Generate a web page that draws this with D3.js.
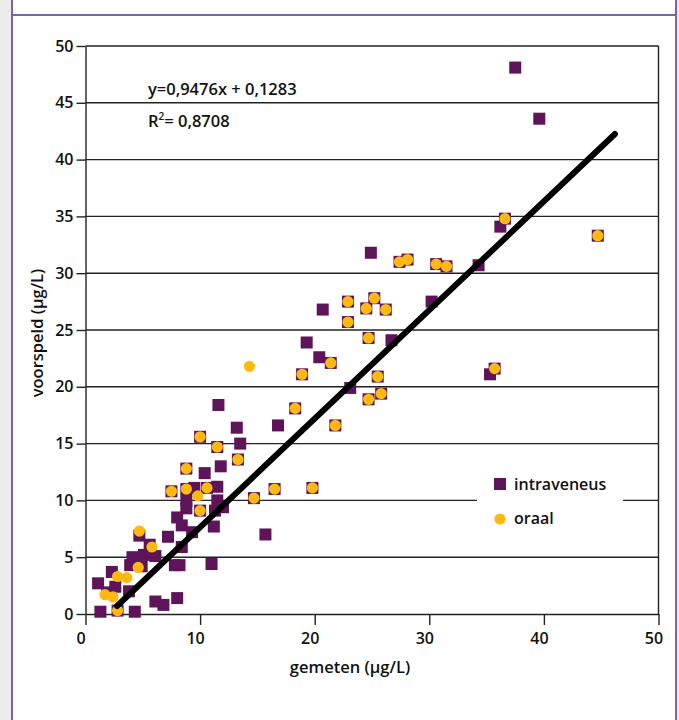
<!DOCTYPE html>
<html>
<head>
  <meta charset="utf-8">
  <title>voorspeld vs gemeten</title>
  <script src="https://cdn.jsdelivr.net/npm/d3@7"></script>
  <style>
    body { margin: 0; background: #ececec; }
    text { font-family: "Open Sans", sans-serif; font-weight: 600; fill: #111; }
  </style>
</head>
<body>
  <script>
    // canvas size
    const w = 679;
    const h = 720;

    // data [gemeten, voorspeld]
    const intraveneus = [
      [1.3, 0.2], [1.1, 2.7], [1.9, 1.9], [2.3, 3.7], [2.6, 2.4], [2.8, 0.3], [3.8, 2.0],
      [4.3, 0.2], [3.9, 4.3], [4.9, 4.2], [4.1, 5.0], [4.7, 6.9], [5.1, 5.2], [5.6, 6.1],
      [6.1, 5.1], [6.1, 1.1], [6.8, 0.8], [7.2, 6.8], [7.8, 4.3], [8.2, 4.3], [8.0, 1.4],
      [7.5, 10.8], [8.0, 8.5], [8.4, 7.8], [8.4, 5.9], [8.8, 12.8], [8.8, 11.0], [8.8, 10.0],
      [8.8, 9.3], [9.3, 7.2], [9.5, 11.1], [10.0, 15.6], [10.0, 9.1], [10.4, 12.4], [10.6, 11.1],
      [11.2, 7.7], [11.0, 4.4], [11.3, 9.1], [11.5, 11.2], [11.5, 10.0], [11.5, 14.7], [11.6, 18.4],
      [12.0, 9.4], [11.8, 13.0], [13.2, 16.4], [13.5, 15.0], [13.3, 13.6], [14.7, 10.2], [15.7, 7.0],
      [16.5, 11.0], [16.8, 16.6], [18.3, 18.1], [18.9, 21.1], [19.3, 23.9], [19.8, 11.1], [20.4, 22.6],
      [20.7, 26.8], [21.4, 22.1], [21.8, 16.6], [22.9, 27.5], [22.9, 25.7], [23.1, 19.9], [24.5, 26.9],
      [24.7, 24.3], [24.7, 18.9], [24.9, 31.8], [25.2, 27.8], [25.5, 20.9], [25.8, 19.4], [26.2, 26.8],
      [26.7, 24.1], [27.4, 31.0], [28.1, 31.2], [30.2, 27.5], [30.6, 30.8], [31.5, 30.6], [34.3, 30.7],
      [35.3, 21.1], [35.7, 21.6], [36.2, 34.1], [36.6, 34.8], [37.5, 48.1], [39.6, 43.6], [44.7, 33.3]
    ];
    const oraal = [
      [1.7, 1.7], [2.4, 1.5], [2.8, 3.3], [2.8, 0.3], [3.6, 3.2], [4.6, 4.1], [4.7, 7.3],
      [5.8, 5.9], [7.5, 10.8], [8.8, 12.8], [8.8, 11.0], [9.8, 10.4], [10.0, 15.6], [10.0, 9.1],
      [10.6, 11.1], [11.5, 14.7], [13.3, 13.6], [14.7, 10.2], [16.5, 11.0], [14.3, 21.8],
      [18.3, 18.1], [18.9, 21.1], [19.8, 11.1], [21.4, 22.1], [21.8, 16.6], [22.9, 27.5],
      [22.9, 25.7], [24.5, 26.9], [24.7, 24.3], [24.7, 18.9], [25.2, 27.8], [25.5, 20.9],
      [25.8, 19.4], [26.2, 26.8], [27.4, 31.0], [28.1, 31.2], [30.6, 30.8], [31.5, 30.6],
      [35.7, 21.6], [36.6, 34.8], [44.7, 33.3]
    ];
    // trendline end points as drawn
    const trend = [[2.75, 0.7], [46.2, 42.25]];
    const ticks = [0, 10, 20, 30, 40, 50];
    const yTicks = [0, 5, 10, 15, 20, 25, 30, 35, 40, 45, 50];
    const equation = ["y=0,9476x + 0,1283", "R", "2", "= 0,8708"];
    const series = ["intraveneus", "oraal"];

    const purple = "#5d1459";
    const orange = "#fdb90f";
    const frame = "#7b63ab";

    const x = d3.scaleLinear().domain([0, 50]).range([85.5, 658.5]);
    const y = d3.scaleLinear().domain([0, 50]).range([614, 46]);

    const svg = d3.select("body").append("svg")
      .attr("width", w)
      .attr("height", h)
      .style("display", "block");

    // panel with purple frame
    svg.append("rect").attr("x", 0).attr("y", 0).attr("width", w).attr("height", h).attr("fill", "#ececec");
    svg.append("rect").attr("x", 12).attr("y", 0).attr("width", 664).attr("height", h).attr("fill", "#fff");
    svg.append("line").attr("x1", 12).attr("x2", 12).attr("y1", 0).attr("y2", h).attr("stroke", frame).attr("stroke-width", 2);
    svg.append("line").attr("x1", 676).attr("x2", 676).attr("y1", 0).attr("y2", h).attr("stroke", frame).attr("stroke-width", 2);
    svg.append("line").attr("x1", 12).attr("x2", 676).attr("y1", 15).attr("y2", 15).attr("stroke", frame).attr("stroke-width", 2);

    // horizontal grid lines
    svg.append("g").selectAll("line")
      .data(yTicks.slice(1))
      .enter().append("line")
      .attr("x1", x(0)).attr("x2", x(50))
      .attr("y1", d => y(d)).attr("y2", d => y(d))
      .attr("stroke", "#222").attr("stroke-width", 1.4);
    // right border
    svg.append("line").attr("x1", x(50)).attr("x2", x(50)).attr("y1", y(50)).attr("y2", y(0))
      .attr("stroke", "#222").attr("stroke-width", 1.4);

    // axes
    const xAxis = svg.append("g").attr("transform", `translate(0,${y(0)})`)
      .call(d3.axisBottom(x).tickValues(ticks).tickSize(11).tickSizeOuter(0).tickPadding(8));
    const yAxis = svg.append("g").attr("transform", `translate(${x(0)},0)`)
      .call(d3.axisLeft(y).tickValues(yTicks).tickSize(9).tickSizeOuter(0).tickPadding(3));
    [xAxis, yAxis].forEach(g => {
      g.select(".domain").attr("stroke", "#222").attr("stroke-width", 1.4);
      g.selectAll(".tick line").attr("stroke", "#222").attr("stroke-width", 1.4);
      g.selectAll(".tick text").style("font-family", "'Open Sans', sans-serif")
        .style("font-weight", 600).style("font-size", "16px").attr("fill", "#111");
    });
    xAxis.selectAll(".tick text").attr("dx", -5);

    // axis titles
    svg.append("text").attr("x", 350).attr("y", 673).attr("text-anchor", "middle")
      .style("font-size", "16.5px").text("gemeten (µg/L)");
    svg.append("text").attr("transform", "translate(43,333) rotate(-90)").attr("text-anchor", "middle")
      .style("font-size", "16.5px").text("voorspeld (µg/L)");

    // equation
    svg.append("text").attr("x", 148).attr("y", 95).style("font-size", "16.5px").text(equation[0]);
    const r2 = svg.append("text").attr("x", 148).attr("y", 127).style("font-size", "16.5px");
    r2.append("tspan").text(equation[1]);
    r2.append("tspan").attr("dy", -7).style("font-size", "10px").text(equation[2]);
    r2.append("tspan").attr("dy", 7).text(equation[3]);

    // points
    svg.append("g").selectAll("rect")
      .data(intraveneus)
      .enter().append("rect")
      .attr("x", d => x(d[0]) - 6)
      .attr("y", d => y(d[1]) - 6)
      .attr("width", 12).attr("height", 12)
      .attr("fill", purple);

    svg.append("g").selectAll("circle")
      .data(oraal)
      .enter().append("circle")
      .attr("cx", d => x(d[0]))
      .attr("cy", d => y(d[1]))
      .attr("r", 5.6)
      .attr("fill", orange);

    // trendline
    svg.append("path")
      .attr("d", d3.line().x(d => x(d[0])).y(d => y(d[1]))(trend))
      .attr("stroke", "#000").attr("stroke-width", 6)
      .attr("stroke-linecap", "round").attr("fill", "none");

    // legend
    const lg = svg.append("g");
    lg.append("rect").attr("x", 477).attr("y", 468).attr("width", 146).attr("height", 62).attr("fill", "#fff");
    lg.append("rect").attr("x", 494).attr("y", 478).attr("width", 12).attr("height", 12).attr("fill", purple);
    lg.append("circle").attr("cx", 500).attr("cy", 519).attr("r", 5.6).attr("fill", orange);
    lg.selectAll("text.lab")
      .data(series)
      .enter().append("text")
      .attr("x", 514)
      .attr("y", (d, i) => 490 + i * 34)
      .style("font-size", "16px")
      .text(d => d);
  </script>
</body>
</html>
